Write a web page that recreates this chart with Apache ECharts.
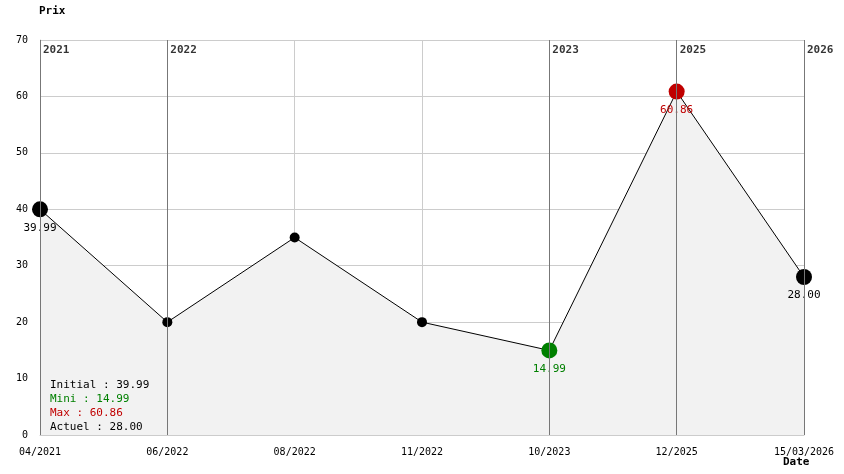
<!DOCTYPE html>
<html>
<head>
<meta charset="utf-8">
<script src="https://cdn.jsdelivr.net/npm/echarts@6/dist/echarts.min.js"></script>
<style>html,body{margin:0;padding:0;background:#fff}#chart{width:844px;height:474px}</style>
</head>
<body>
<div id="chart"></div>
<script>
var dates = ['04/2021', '06/2022', '08/2022', '11/2022', '10/2023', '12/2025', '15/03/2026'];
var prices = [39.99, 20, 35, 20, 14.99, 60.86, 28.00];
var years = ['2021', '2022', '', '', '2023', '2025', '2026'];
var font = 'DejaVu Sans Mono';

var myChart = echarts.init(document.getElementById('chart'));

var points = prices.map(function (v, i) {
    var p = { value: v, symbolSize: 10, itemStyle: { color: '#000' }, label: { show: false } };
    if (i === 0 || i === prices.length - 1) {
        p.symbolSize = 16;
        p.label = { show: true, color: '#000' };
    }
    if (i === 4) { p.symbolSize = 16; p.itemStyle.color = '#008000'; p.label = { show: true, color: '#008000' }; }
    if (i === 5) { p.symbolSize = 16; p.itemStyle.color = '#c00000'; p.label = { show: true, color: '#c00000' }; }
    return p;
});

var option = {
    animation: false,
    textStyle: { fontFamily: font },
    grid: { left: 40, right: 40, top: 40, bottom: 39 },
    xAxis: {
        type: 'category',
        data: dates,
        boundaryGap: false,
        axisLine: { lineStyle: { color: '#ccc' } },
        axisTick: { show: false },
        axisLabel: { color: '#000', fontFamily: font, fontSize: 10, margin: 12 },
        splitLine: { show: true, lineStyle: { color: '#ccc' } }
    },
    yAxis: {
        type: 'value',
        min: 0, max: 70, interval: 10,
        axisLine: { show: true, lineStyle: { color: '#ccc' } },
        axisLabel: { color: '#000', fontFamily: font, fontSize: 10, margin: 12 },
        splitLine: { lineStyle: { color: '#ccc' } }
    },
    series: [
        {
            type: 'line',
            data: points,
            symbol: 'circle',
            lineStyle: { color: '#000', width: 1 },
            areaStyle: { color: '#f2f2f2', opacity: 1 },
            label: { position: 'bottom', fontFamily: font, fontSize: 11, formatter: function (p) { return p.value.toFixed(2); } },
            markLine: {
                symbol: 'none',
                silent: true,
                label: { show: false },
                lineStyle: { color: '#777', width: 1, type: 'solid' },
                data: years.map(function (y, i) { return y ? { xAxis: dates[i] } : null; }).filter(Boolean)
            },
            z: 3
        },
        {
            type: 'scatter',
            data: years.map(function () { return 70; }),
            symbolSize: 0,
            label: {
                show: true, position: [3, 5], color: '#000', fontWeight: 'bold',
                fontFamily: font, fontSize: 11,
                formatter: function (p) { return years[p.dataIndex]; }
            }
        }
    ],
    graphic: [
        { type: 'text', z: 100, left: 39, top: 6, style: { text: 'Prix', font: 'bold 11px "DejaVu Sans Mono"', fill: '#000' } },
        { type: 'text', z: 100, left: 783, top: 457, style: { text: 'Date', font: 'bold 11px "DejaVu Sans Mono"', fill: '#000' } },
        { type: 'text', z: 100, left: 50, top: 380, style: { text: 'Initial : 39.99', font: '11px "DejaVu Sans Mono"', fill: '#000' } },
        { type: 'text', z: 100, left: 50, top: 394, style: { text: 'Mini : 14.99', font: '11px "DejaVu Sans Mono"', fill: '#008000' } },
        { type: 'text', z: 100, left: 50, top: 408, style: { text: 'Max : 60.86', font: '11px "DejaVu Sans Mono"', fill: '#c00000' } },
        { type: 'text', z: 100, left: 50, top: 422, style: { text: 'Actuel : 28.00', font: '11px "DejaVu Sans Mono"', fill: '#000' } }
    ]
};
myChart.setOption(option);
</script>
</body>
</html>
